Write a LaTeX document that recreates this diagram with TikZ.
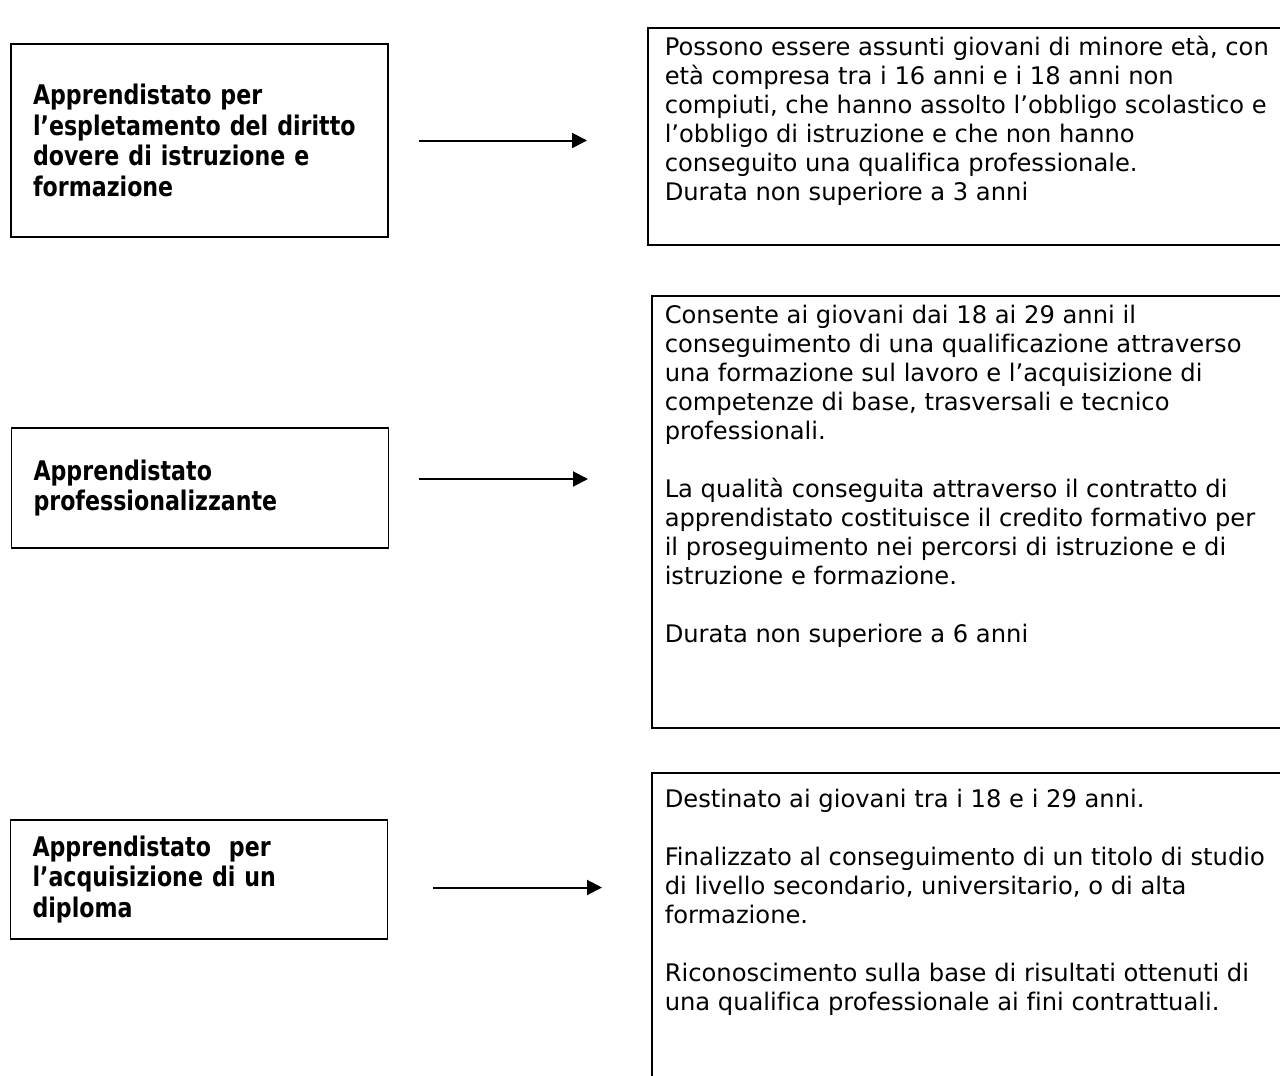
\documentclass[tikz,border=0pt]{standalone}
\usepackage{fontspec}
\setmainfont{DejaVu Sans}[Ligatures=NoCommon]
\newfontfamily\labelfont{DejaVu Sans}[FakeStretch=0.82]
\usepackage{tikz}
\usetikzlibrary{arrows.meta, positioning}

\begin{document}
\begin{tikzpicture}[
    x=1pt, y=-1pt,
    lbox/.style={draw, line width=1.5pt, align=left, text width=333pt, inner xsep=22pt, inner ysep=0pt,
                 font=\labelfont\bfseries\fontsize{27}{30.5}\selectfont},
    rbox/.style={draw, line width=1.5pt, anchor=north west, inner xsep=13pt, inner ysep=8pt,
                 font=\fontsize{24.2}{29}\selectfont},
    arrow/.style={-{Triangle[length=15pt, width=15pt]}, line width=2pt}
]
\useasboundingbox (0,0) rectangle (1280,1076);
\clip (0,0) rectangle (1280,1076);

% left column
\node[lbox, minimum width=377pt, minimum height=193pt] (lone) at (199.5,140.5)
    {Apprendistato per\\l’espletamento del diritto\\dovere di istruzione e\\formazione};
\node[lbox, minimum width=376pt, minimum height=120pt] (ltwo) at (200,488)
    {Apprendistato\\professionalizzante};
\node[lbox, minimum width=376pt, minimum height=119pt] (lthree) at (199,879.5)
    {Apprendistato \ per\\l’acquisizione di un\\diploma};

% right column
\node[rbox, inner xsep=17pt] (rone) at (647,27)
    {\parbox[c][201pt][t]{680pt}{Possono essere assunti giovani di minore età, con\\età compresa tra i 16 anni e i 18 anni non\\compiuti, che hanno assolto l’obbligo scolastico e\\l’obbligo di istruzione e che non hanno\\conseguito una qualifica professionale.\\Durata non superiore a 3 anni}};
\node[rbox, inner ysep=9pt] (rtwo) at (651,295)
    {\parbox[c][414pt][t]{680pt}{Consente ai giovani dai 18 ai 29 anni il\\conseguimento di una qualificazione attraverso\\una formazione sul lavoro e l’acquisizione di\\competenze di base, trasversali e tecnico\\professionali.\\[29pt]La qualità conseguita attraverso il contratto di\\apprendistato costituisce il credito formativo per\\il proseguimento nei percorsi di istruzione e di\\istruzione e formazione.\\[29pt]Durata non superiore a 6 anni}};
\node[rbox, inner ysep=16pt] (rthree) at (651,772)
    {\parbox[c][330pt][t]{680pt}{Destinato ai giovani tra i 18 e i 29 anni.\\[29pt]Finalizzato al conseguimento di un titolo di studio\\di livello secondario, universitario, o di alta\\formazione.\\[29pt]Riconoscimento sulla base di risultati ottenuti di\\una qualifica professionale ai fini contrattuali.}};

% connectors
\coordinate (atwo) at ([yshift=9pt]ltwo.east);
\coordinate (athree) at ([yshift=-8pt]lthree.east);
\draw[arrow, shorten <=30pt, shorten >=60pt] (lone.east) -- (lone.east -| rone.west);
\draw[arrow, shorten <=30pt, shorten >=63pt] (atwo) -- (atwo -| rtwo.west);
\draw[arrow, shorten <=45pt, shorten >=49pt] (athree) -- (athree -| rthree.west);

\end{tikzpicture}
\end{document}
